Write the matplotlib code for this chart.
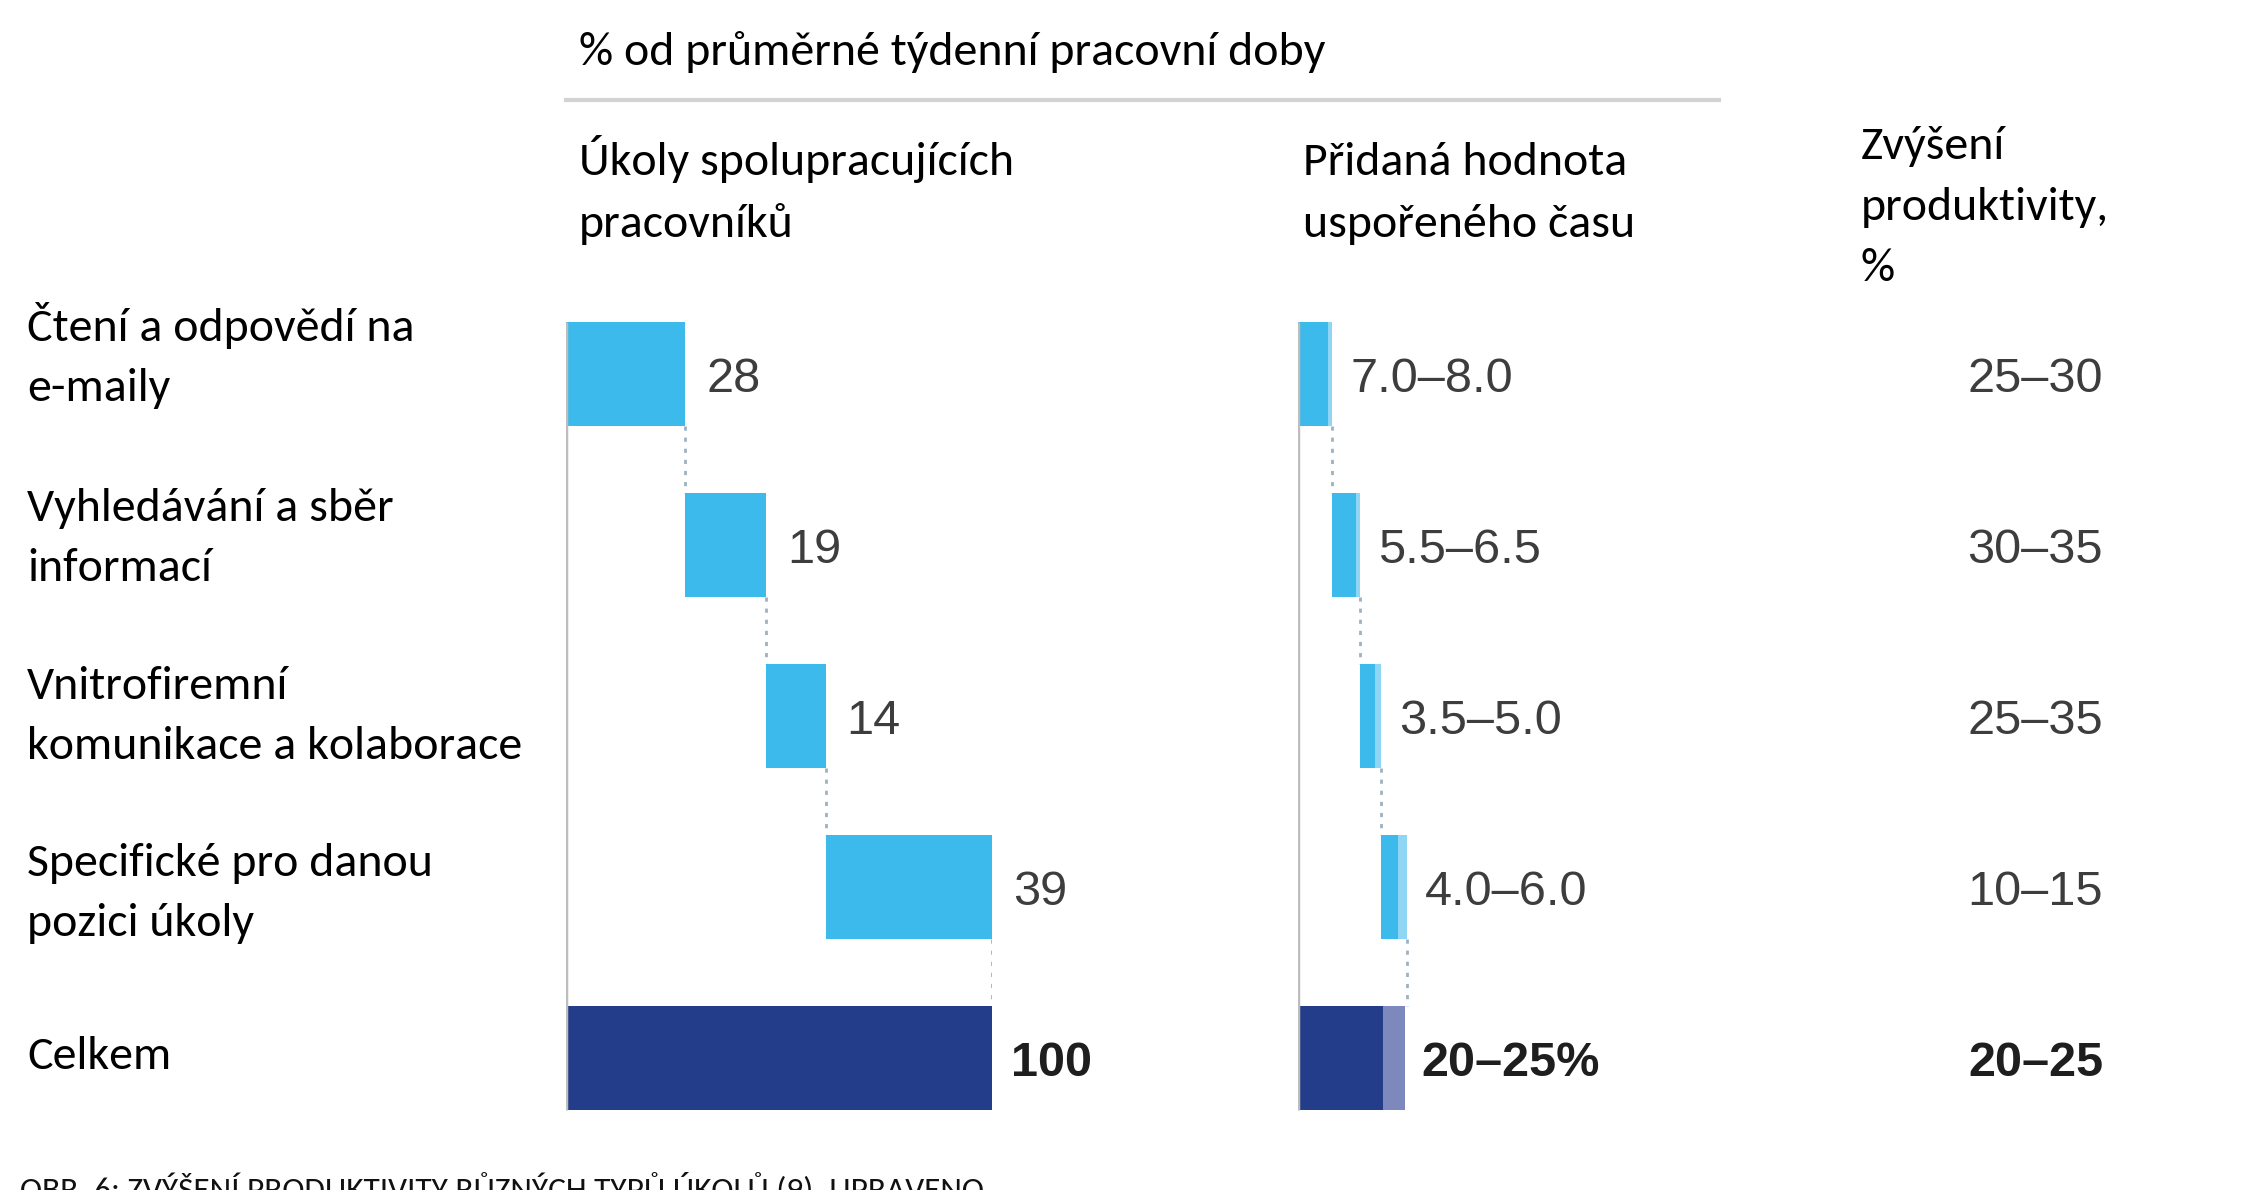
import matplotlib
matplotlib.use('Agg')
import matplotlib.pyplot as plt
from matplotlib.lines import Line2D
from matplotlib.transforms import blended_transform_factory

# data
categories = ['Čtení a odpovědí na\ne-maily',
              'Vyhledávání a sběr\ninformací',
              'Vnitrofiremní\nkomunikace a kolaborace',
              'Specifické pro danou\npozici úkoly',
              'Celkem']
time_share = [28, 19, 14, 39]          # % of weekly working time
time_total = 100
saved_low = [7.0, 5.5, 3.5, 4.0]       # value of saved time, low estimate
saved_high = [8.0, 6.5, 5.0, 6.0]      # value of saved time, high estimate
saved_total = [20, 25]
productivity = ['25–30', '30–35', '25–35', '10–15', '20–25']

title = '% od průměrné týdenní pracovní doby'
col_headers = ['Úkoly spolupracujících\npracovníků',
               'Přidaná hodnota\nuspořeného času',
               'Zvýšení\nproduktivity,\n%']
caption = 'Obr. 6: Zvýšení produktivity různých typů úkolů (9), upraveno'

# style
LIGHT = '#3bbaeb'
PALE = '#8fd5f4'
NAVY = '#233d8a'
PALE_NAVY = '#7d89bd'
DOTS = '#9db2c1'
AXIS = '#bdbdbd'
TXT_FONT = ['Carlito', 'DejaVu Sans']
NUM_FONT = ['Liberation Sans', 'DejaVu Sans']
TXT_SIZE = 34.5
NUM_SIZE = 35
NUM_DY = -4  # points, nudges numbers onto the bar centre

W, H = 2242, 1190
fig = plt.figure(figsize=(W / 100, H / 100), dpi=100)


def fx(px):
    return px / W


def fy(py):
    return 1 - py / H


bar_h = 0.61
ax1 = fig.add_axes([fx(566), fy(1143.5), 426 / W, 855 / H])
ax2 = fig.add_axes([fx(1298), fy(1143.5), 426 / W, 855 / H])
for ax in (ax1, ax2):
    ax.set_xlim(0, 100)
    ax.set_ylim(4.5, -0.5)
    ax.axis('off')
    ax.plot([0, 0], [-bar_h / 2, 4 + bar_h / 2], color=AXIS, lw=2.5, zorder=3,
            solid_capstyle='butt')

# left panel: waterfall of time share
n = len(time_share)
starts = [sum(time_share[:i]) for i in range(n)]
ax1.barh(range(n), time_share, left=starts, height=bar_h, color=LIGHT, zorder=2)
ax1.barh(n, time_total, height=bar_h, color=NAVY, zorder=2)
for i in range(n):
    x = starts[i] + time_share[i]
    ax1.plot([x, x], [i + bar_h / 2, i + 1 - bar_h / 2], color=DOTS, lw=2,
             ls=(0, (1.5, 2.5)), zorder=1)
    ax1.annotate(str(time_share[i]), xy=(x, i), xytext=(15, NUM_DY), textcoords='offset points',
                 va='center', ha='left', fontsize=NUM_SIZE, family=NUM_FONT, color='#3d3d3d')
ax1.annotate(str(time_total), xy=(time_total, n), xytext=(14, NUM_DY), textcoords='offset points',
             va='center', ha='left', fontsize=NUM_SIZE, family=NUM_FONT, color='#1e1e1e',
             fontweight='bold')

# right panel: value of saved time
starts2 = [sum(saved_high[:i]) for i in range(n)]
spread = [h - l for l, h in zip(saved_low, saved_high)]
lefts_pale = [s + l for s, l in zip(starts2, saved_low)]
ax2.barh(range(n), saved_low, left=starts2, height=bar_h, color=LIGHT, zorder=2)
ax2.barh(range(n), spread, left=lefts_pale, height=bar_h, color=PALE, zorder=2)
ax2.barh(n, saved_total[0], height=bar_h, color=NAVY, zorder=2)
ax2.barh(n, saved_total[1] - saved_total[0], left=saved_total[0], height=bar_h,
         color=PALE_NAVY, zorder=2)
for i in range(n):
    x = starts2[i] + saved_high[i]
    ax2.plot([x, x], [i + bar_h / 2, i + 1 - bar_h / 2], color=DOTS, lw=2,
             ls=(0, (1.5, 2.5)), zorder=1)
    ax2.annotate(f'{saved_low[i]:.1f}–{saved_high[i]:.1f}', xy=(x, i), xytext=(13, NUM_DY),
                 textcoords='offset points', va='center', ha='left', fontsize=NUM_SIZE,
                 family=NUM_FONT, color='#3d3d3d')
ax2.annotate(f'{saved_total[0]}–{saved_total[1]}%', xy=(saved_total[1], n), xytext=(12, NUM_DY),
             textcoords='offset points', va='center', ha='left', fontsize=NUM_SIZE,
             family=NUM_FONT, color='#1e1e1e', fontweight='bold')

# productivity column
trans = blended_transform_factory(fig.transFigure, ax1.transData)
for i, p in enumerate(productivity):
    last = i == len(productivity) - 1
    ax1.annotate(p, xy=(fx(2103), i), xycoords=trans, xytext=(0, NUM_DY),
                 textcoords='offset points', ha='right', va='center', fontsize=NUM_SIZE,
                 family=NUM_FONT, color='#1e1e1e' if last else '#3d3d3d',
                 fontweight='bold' if last else 'normal')

# row labels
label_base = [341, 521, 699, 876, 1069]
for lab, b in zip(categories, label_base):
    for k, line in enumerate(lab.split('\n')):
        fig.text(fx(27), fy(b + 60 * k), line, ha='left', va='baseline',
                 fontsize=TXT_SIZE, family=TXT_FONT, color='black')

# headers
fig.text(fx(579), fy(65), title, ha='left', va='baseline', fontsize=TXT_SIZE,
         family=TXT_FONT, color='black')
fig.add_artist(Line2D([fx(566), fx(1719)], [fy(100), fy(100)], color='#d3d3d3', lw=3,
                      transform=fig.transFigure))
for hdr, x0, b0, step in zip(col_headers, [579, 1303, 1861], [175, 175, 159], [62, 62, 61]):
    for k, line in enumerate(hdr.split('\n')):
        fig.text(fx(x0), fy(b0 + step * k), line, ha='left', va='baseline',
                 fontsize=TXT_SIZE, family=TXT_FONT, color='black')

# caption (cut by the bottom edge, as in the source)
fig.text(fx(20), fy(1172), caption.upper(), ha='left', va='top', fontsize=24,
         family=TXT_FONT, color='#111111')

fig.savefig('out.png', dpi=100)
